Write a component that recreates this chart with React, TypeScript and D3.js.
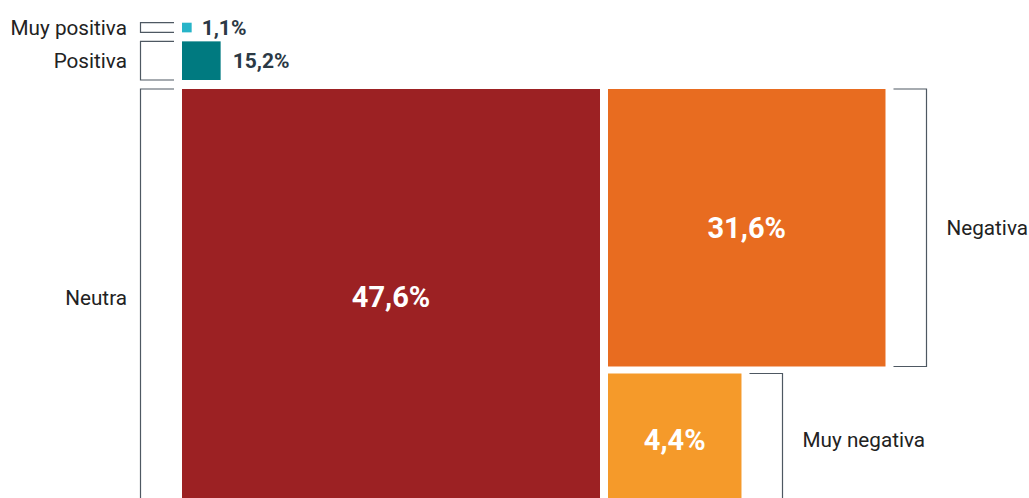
import React from "react";
import * as d3 from "d3";

// Categories (top-left column then right column)
const categories = ["Muy positiva", "Positiva", "Neutra", "Negativa", "Muy negativa"];
// Percent values shown as labels
const labelValues = [1.1, 15.2, 47.6, 31.6, 4.4];
// Values governing the drawn square side (as in the original graphic)
const sizeValues = [1.1, 4.4, 47.6, 31.6, 15.2];
const colors = ["#27b4c8", "#007a80", "#9c2123", "#e86c20", "#f59a2a"];
const columns = [0, 0, 0, 1, 1];
const labelInside = [false, false, true, true, true];

const W = 1029;
const H = 498;
const GAP = 8;
const GAP_V_LEFT = 9;
const GAP_V_RIGHT = 7;
const X0 = 182;
const Y_MAIN = 89;

export default function App() {
  const side = d3.scaleLinear().domain([0, 47.6]).range([0, 418]);
  const fmt = (v: number) => d3.format(".1f")(v).replace(".", ",") + "%";

  const boxes: { x: number; y: number; s: number; i: number }[] = [];
  const sN = side(sizeValues[2]);
  boxes[2] = { x: X0, y: Y_MAIN, s: sN, i: 2 };
  const sP = side(sizeValues[1]);
  boxes[1] = { x: X0, y: Y_MAIN - GAP_V_LEFT - sP, s: sP, i: 1 };
  const sMP = side(sizeValues[0]);
  boxes[0] = { x: X0, y: boxes[1].y - GAP_V_LEFT - sMP, s: sMP, i: 0 };
  const xR = X0 + sN + GAP;
  const sNg = side(sizeValues[3]);
  boxes[3] = { x: xR, y: Y_MAIN, s: sNg, i: 3 };
  const sMN = side(sizeValues[4]);
  boxes[4] = { x: xR, y: Y_MAIN + sNg + GAP_V_RIGHT, s: sMN, i: 4 };

  const font = "Roboto, 'Open Sans', sans-serif";
  const bracketColor = "#4e5862";

  return (
    <svg
      width={W}
      height={H}
      style={{ position: "absolute", left: 0, top: 0, background: "#fff" }}
      fontFamily={font}
    >
      {boxes.map((b) => {
        const i = b.i;
        const left = columns[i] === 0;
        const cy = b.y + b.s / 2;
        let path: string;
        let labelX: number;
        if (left) {
          const bx1 = b.x - GAP;
          const bx0 = 140.5;
          path = `M${bx1},${b.y} H${bx0} V${b.y + b.s} H${bx1}`;
          labelX = bx0 - 13.5;
        } else {
          const bx0 = b.x + b.s + GAP;
          const bx1 = Math.round(bx0 + 33) + 0.5;
          path = `M${bx0},${b.y} H${bx1} V${b.y + b.s} H${bx0}`;
          labelX = bx1 + 20;
        }
        return (
          <g key={categories[i]}>
            <rect x={b.x} y={b.y} width={b.s} height={b.s} fill={colors[i]} />
            <path d={path} fill="none" stroke={bracketColor} strokeWidth={1.2} />
            <text
              x={labelX}
              y={cy}
              dy="0.35em"
              textAnchor={left ? "end" : "start"}
              fontSize={20.7}
              fill="#222"
            >
              {categories[i]}
            </text>
            {labelInside[i] ? (
              <text
                x={b.x + b.s / 2}
                y={i === 2 ? 297 : i === 4 ? 440 : cy}
                dy="0.35em"
                textAnchor="middle"
                fontSize={29}
                fontWeight={700}
                fill="#fff"
              >
                {fmt(labelValues[i])}
              </text>
            ) : (
              <text
                x={b.x + b.s + (i === 0 ? 10 : 12)}
                y={cy}
                dy="0.35em"
                textAnchor="start"
                fontSize={21}
                fontWeight={700}
                fill="#2b3945"
              >
                {fmt(labelValues[i])}
              </text>
            )}
          </g>
        );
      })}
    </svg>
  );
}
